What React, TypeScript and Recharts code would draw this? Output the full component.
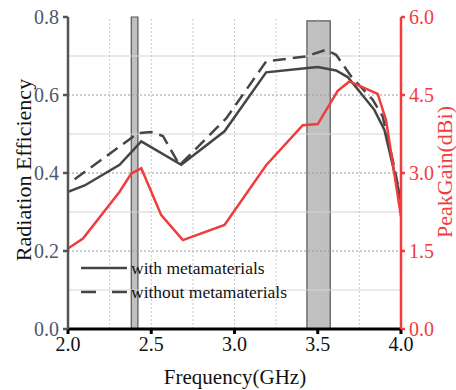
import React from 'react';
import {
  ComposedChart,
  Line,
  XAxis,
  YAxis,
  ReferenceLine,
  ReferenceArea,
} from 'recharts';

const FONT = 'Liberation Serif, Times New Roman, serif';

// with metamaterials (solid, left axis)
const withFreq = [2.0, 2.1, 2.31, 2.44, 2.68, 2.94, 3.19, 3.44, 3.5, 3.61, 3.68, 3.84, 3.9, 4.0];
const withEff = [0.352, 0.368, 0.421, 0.481, 0.421, 0.507, 0.658, 0.669, 0.672, 0.663, 0.646, 0.562, 0.511, 0.33];

// without metamaterials (dashed, left axis)
const withoutFreq = [2.04, 2.42, 2.5, 2.57, 2.67, 2.95, 3.19, 3.43, 3.55, 3.61, 3.7, 3.83, 3.89, 3.95, 4.0];
const withoutEff = [0.384, 0.502, 0.505, 0.495, 0.42, 0.54, 0.686, 0.699, 0.716, 0.703, 0.648, 0.588, 0.545, 0.434, 0.33];

// peak gain (red, right axis)
const gainFreq = [2.0, 2.09, 2.31, 2.38, 2.44, 2.56, 2.69, 2.94, 3.19, 3.41, 3.5, 3.62, 3.69, 3.86, 3.91, 4.0];
const gainDbi = [1.55, 1.74, 2.64, 2.99, 3.09, 2.19, 1.71, 2.0, 3.15, 3.92, 3.94, 4.58, 4.76, 4.52, 4.02, 2.16];

// shaded bands (GHz)
const bands = [
  { x1: 2.38, x2: 2.42, top: 0.8 },
  { x1: 3.435, x2: 3.575, top: 0.79 },
];

const xTicks = [2.0, 2.5, 3.0, 3.5, 4.0];
const effTicks = [0, 0.2, 0.4, 0.6, 0.8];
const gainTicks = [0, 1.5, 3.0, 4.5, 6.0];
const solidGrid = [0.1, 0.3, 0.5, 0.7];
const dottedGrid = [0.2, 0.4, 0.6];
const vGrid = [2.25, 2.5, 2.75, 3.0, 3.25, 3.5, 3.75];

const toPoints = (xs: number[], ys: number[]) => xs.map((f, i) => ({ f, v: ys[i] }));

const withData = toPoints(withFreq, withEff);
const withoutData = toPoints(withoutFreq, withoutEff);
const gainData = toPoints(gainFreq, gainDbi);

const RED = '#f03c3c';
const DARK = '#454545';

const legendRows = [
  { label: 'with metamaterials', dash: undefined },
  { label: 'without metamaterials', dash: '15 16' },
];

const LegendBox = () => (
  <div style={{ position: 'absolute', left: 78, top: 256, fontFamily: FONT, fontSize: 17.5, color: '#111' }}>
    {legendRows.map((r) => (
      <div key={r.label} style={{ display: 'flex', alignItems: 'center', height: 24 }}>
        <svg width={52} height={10} style={{ marginRight: 1 }}>
          <line x1={3} y1={5} x2={49} y2={5} stroke={DARK} strokeWidth={2.5} strokeDasharray={r.dash} />
        </svg>
        <span>{r.label}</span>
      </div>
    ))}
  </div>
);

// serif tick text, anchor depends on axis side
const makeTick = (anchor: 'start' | 'middle' | 'end', fill: string, dx: number, dy: number) =>
  (props: any) => {
    const { x, y, payload } = props;
    return (
      <text x={x + dx} y={y + dy} textAnchor={anchor} fill={fill} fontFamily={FONT} fontSize={20}>
        {Number(payload.value).toFixed(1)}
      </text>
    );
  };

const titleProps = { fontSize: 22, fontFamily: FONT };

export default function App() {
  return (
    <div style={{ position: 'absolute', left: 0, top: 0, width: 456, height: 390, background: '#fff' }}>
      <ComposedChart width={456} height={390} margin={{ top: 17, right: 0, bottom: 0, left: 0 }}>
        <XAxis
          dataKey="f"
          type="number"
          domain={[2, 4]}
          ticks={xTicks}
          allowDataOverflow
          height={61}
          stroke="#000"
          strokeWidth={3}
          tickSize={5}
          tick={makeTick('middle', '#111', 0, 15)}
          label={() => (
            <text x={235} y={384} textAnchor="middle" fill="#111" {...titleProps} fontSize={21}>Frequency(GHz)</text>
          )}
        />
        <YAxis
          yAxisId="eff"
          domain={[0, 0.8]}
          ticks={effTicks}
          width={68}
          stroke="#555"
          strokeWidth={2.5}
          tickSize={5}
          tick={makeTick('end', '#4e5868', -2, 7)}
          label={() => (
            <text x={0} y={0} transform="translate(31,170) rotate(-90)" textAnchor="middle" fill="#111" {...titleProps}>Radiation Efficiency</text>
          )}
        />
        <YAxis
          yAxisId="gain"
          orientation="right"
          domain={[0, 6]}
          ticks={gainTicks}
          width={55}
          stroke={RED}
          strokeWidth={2.5}
          tickSize={4}
          tick={makeTick('start', RED, 2, 7)}
          label={() => (
            <text x={0} y={0} transform="translate(452,172) rotate(-90)" textAnchor="middle" fill={RED} {...titleProps}>PeakGain(dBi)</text>
          )}
        />
        {solidGrid.map((y) => (
          <ReferenceLine key={'s' + y} yAxisId="eff" y={y} stroke="#d4d4d4" strokeWidth={1.2} />
        ))}
        {dottedGrid.map((y) => (
          <ReferenceLine key={'d' + y} yAxisId="eff" y={y} stroke="#9a9a9a" strokeDasharray="2 2" />
        ))}
        {vGrid.map((x) => (
          <ReferenceLine key={'v' + x} yAxisId="eff" x={x} stroke="#c8c8c8" strokeDasharray="2 2" />
        ))}
        {bands.map((b) => (
          <ReferenceArea key={b.x1} yAxisId="eff" x1={b.x1} x2={b.x2} y1={0} y2={b.top} fill="#c0c0c0" fillOpacity={1} stroke="#555" strokeWidth={1.2} />
        ))}
        <Line yAxisId="eff" data={withData} dataKey="v" type="linear" stroke={DARK} strokeWidth={2.5} dot={false} isAnimationActive={false} />
        <Line yAxisId="eff" data={withoutData} dataKey="v" type="linear" stroke={DARK} strokeWidth={2.5} strokeDasharray="13 7" dot={false} isAnimationActive={false} />
        <Line yAxisId="gain" data={gainData} dataKey="v" type="linear" stroke={RED} strokeWidth={2.5} dot={false} isAnimationActive={false} />
      </ComposedChart>
      <LegendBox />
    </div>
  );
}
